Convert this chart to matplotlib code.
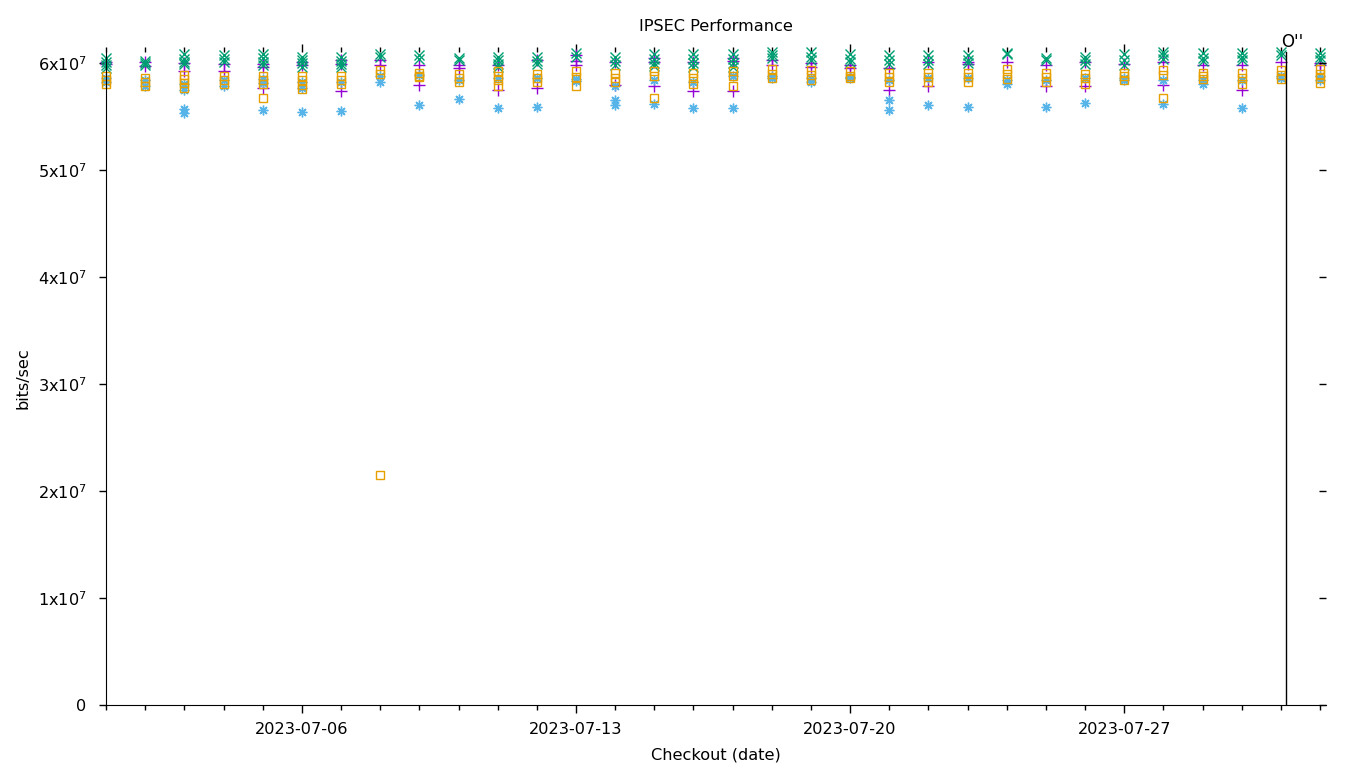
import matplotlib
matplotlib.use('Agg')
import matplotlib.pyplot as plt
import matplotlib.dates as mdates
from matplotlib.ticker import FuncFormatter
import numpy as np
import datetime as dt

plt.rcParams['font.family'] = ['DejaVu Sans']
plt.rcParams['font.size'] = 11.6
plt.rcParams['mathtext.default'] = 'regular'

# one checkout per day, several runs per day (values in units of 1e7 bits/sec)
days = [dt.datetime(2023, 7, 1) + dt.timedelta(days=i) for i in range(32)]

purple_plus = [
    [6.01, 5.99], [6.01, 5.97], [6.00, 5.92], [5.99, 5.92],
    [5.99, 5.96, 5.77], [6.01, 5.98], [6.03, 5.99, 5.74], [6.03, 5.98],
    [5.98, 5.79], [5.98, 5.95], [5.98, 5.75], [6.03, 5.77],
    [6.07, 6.02, 5.98], [6.01, 5.79], [6.05, 6.01, 5.78], [6.01, 5.74],
    [6.05, 6.02, 5.74], [6.03, 5.98], [6.00, 5.96], [5.98, 5.95],
    [5.95, 5.75], [6.01, 5.78], [6.01, 5.99], [6.01],
    [5.98, 5.78], [6.01, 5.78], [5.99], [6.01, 5.79],
    [5.98], [5.98, 5.75], [6.01], [6.00, 5.98],
]

green_x = [
    [6.05, 6.01, 5.98, 5.95], [6.02, 6.00, 5.98], [6.08, 6.04, 6.01, 5.99], [6.07, 6.04, 6.01],
    [6.08, 6.05, 6.01, 5.98], [6.06, 6.03, 6.00, 5.96], [6.06, 6.02, 5.99, 5.96], [6.08, 6.06],
    [6.07, 6.04], [6.05, 6.03], [6.06, 6.03, 5.99, 5.96], [6.06, 6.02, 5.99],
    [6.09, 6.06], [6.06, 6.02, 5.98], [6.08, 6.04, 6.00, 5.97], [6.08, 6.04, 6.00, 5.96],
    [6.08, 6.04, 6.00, 5.96], [6.10, 6.07, 6.05], [6.10, 6.06, 6.03], [6.08, 6.04, 6.01],
    [6.07, 6.03, 5.99], [6.07, 6.03, 5.99], [6.07, 6.03, 6.00], [6.09, 6.08],
    [6.05, 6.03], [6.06, 6.03, 5.99], [6.08, 6.03, 5.98], [6.10, 6.07, 6.04],
    [6.09, 6.05, 6.02], [6.09, 6.06, 6.03], [6.10, 6.07], [6.09, 6.06, 6.03],
]

blue_star = [
    [5.86, 5.82], [5.84, 5.78], [5.80, 5.75, 5.57, 5.53], [5.84, 5.78],
    [5.85, 5.81, 5.56], [5.82, 5.77, 5.54], [5.82, 5.55], [5.88, 5.82],
    [5.89, 5.61], [5.84, 5.66], [5.86, 5.58], [5.86, 5.59],
    [5.85, 5.83], [5.78, 5.65, 5.61], [5.84, 5.62], [5.82, 5.58],
    [5.88, 5.58], [5.88, 5.86], [5.86, 5.82], [5.87, 5.86],
    [5.84, 5.65, 5.56], [5.86, 5.61], [5.86, 5.59], [5.84, 5.80],
    [5.84, 5.59], [5.86, 5.63], [5.86, 5.84], [5.84, 5.62],
    [5.84, 5.80], [5.84, 5.58], [5.88, 5.86], [5.88, 5.84],
]

orange_square = [
    [5.88, 5.84, 5.80], [5.86, 5.82, 5.78], [5.89, 5.85, 5.81, 5.77], [5.88, 5.84, 5.80],
    [5.88, 5.84, 5.80, 5.67], [5.88, 5.84, 5.79, 5.76], [5.88, 5.84, 5.80], [5.93, 5.90, 2.15],
    [5.91, 5.88, 5.87], [5.90, 5.86, 5.82], [5.92, 5.88, 5.84, 5.78], [5.90, 5.86, 5.82],
    [5.92, 5.87, 5.78], [5.91, 5.86, 5.82], [5.92, 5.88, 5.67], [5.91, 5.86, 5.80],
    [5.92, 5.88, 5.78], [5.94, 5.90, 5.86], [5.93, 5.89, 5.84], [5.92, 5.88, 5.86],
    [5.91, 5.87, 5.82], [5.91, 5.87, 5.82], [5.91, 5.87, 5.82], [5.94, 5.90, 5.85],
    [5.91, 5.87, 5.82], [5.90, 5.86, 5.80], [5.91, 5.88, 5.84], [5.93, 5.89, 5.67],
    [5.91, 5.88, 5.85], [5.91, 5.86, 5.80], [5.93, 5.89, 5.85], [5.94, 5.90, 5.86, 5.81],
]

marker_time = dt.datetime(2023, 7, 31, 3, 20)
marker_label = "O''"

series = [
    (purple_plus, '#9400d3', '+', 9),
    (green_x, '#009e73', 'x', 7),
    (blue_star, '#56b4e9', (8, 2, 0), 7),
    (orange_square, '#e69f00', 's', 6),
]

fig = plt.figure(figsize=(13.6, 7.68), dpi=100)
ax = fig.add_axes([0.078, 0.082, 0.897, 0.850])

for vals, color, mk, ms in series:
    xs, ys = [], []
    for d, v in zip(days, vals):
        xs += [d] * len(v)
        ys += [x * 1e7 for x in v]
    if mk == 's':
        ax.plot(xs, ys, ls='none', marker=mk, ms=ms, mfc='none', mec=color,
                mew=1.0, clip_on=False)
    else:
        ax.plot(xs, ys, ls='none', marker=mk, ms=ms, color=color, mew=1.0,
                clip_on=False)

ax.axvline(marker_time, color='black', lw=1.0)
ax.annotate(marker_label, xy=(marker_time, 1.0), xycoords=('data', 'axes fraction'),
            xytext=(-4, 1), textcoords='offset points', ha='left', va='bottom',
            fontsize=12)

ax.set_xlim(dt.datetime(2023, 7, 1), dt.datetime(2023, 8, 1, 3, 40))
ax.set_ylim(0, 6.1e7)

ax.xaxis.set_major_locator(mdates.DayLocator(bymonthday=[6, 13, 20, 27]))
ax.xaxis.set_minor_locator(mdates.DayLocator())
ax.xaxis.set_major_formatter(mdates.DateFormatter('%Y-%m-%d'))
ax.set_yticks(np.arange(0, 7e7, 1e7))


def fmt(v, pos):
    if v == 0:
        return '0'
    return r'%dx10$^{7}$' % round(v / 1e7)


ax.yaxis.set_major_formatter(FuncFormatter(fmt))

ax.spines['top'].set_visible(False)
ax.spines['right'].set_visible(False)
ax.tick_params(axis='x', which='major', direction='out', length=5.5, width=1,
               top=True, pad=7)
ax.tick_params(axis='x', which='minor', direction='out', length=3.5, width=1,
               top=True)
ax.tick_params(axis='y', direction='out', length=5, width=1, pad=9)

# right-hand mirrored ticks pointing inward
ax2 = ax.twinx()
ax2.set_ylim(ax.get_ylim())
ax2.set_yticks(ax.get_yticks())
ax2.tick_params(axis='y', direction='in', length=5, width=1, labelright=False)
for s in ax2.spines.values():
    s.set_visible(False)

ax.set_title('IPSEC Performance', fontsize=11.6, pad=15)
ax.set_xlabel('Checkout (date)', labelpad=7)
ax.set_ylabel('bits/sec', labelpad=5)

fig.savefig('out.png', dpi=100)
